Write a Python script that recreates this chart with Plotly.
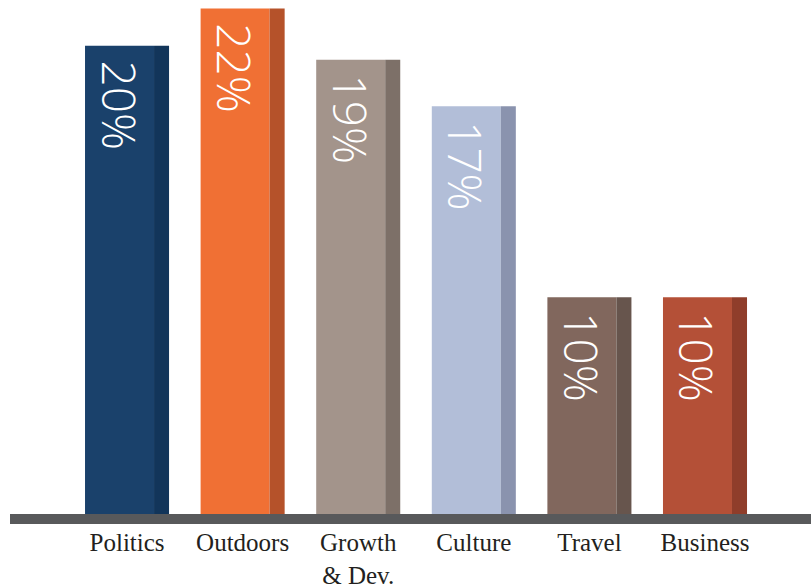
import plotly.graph_objects as go

categories = ["Politics", "Outdoors", "Growth<br>& Dev.", "Culture", "Travel", "Business"]
bar_heights = [20.1, 21.7, 19.5, 17.5, 9.3, 9.3]
value_labels = ["20%", "22%", "19%", "17%", "10%", "10%"]
face_colors = ["#1a416b", "#f07034", "#a3948b", "#b2bed8", "#81675d", "#b45037"]
side_colors = ["#12355a", "#b5522a", "#7d7068", "#8a93ae", "#67554d", "#8f3d2a"]

xs = list(range(len(categories)))

fig = go.Figure()
fig.add_trace(go.Bar(
    x=xs, y=bar_heights, width=0.597, offset=-0.3635,
    marker=dict(color=face_colors, line=dict(width=0)),
    text=["\u00a0" + t for t in value_labels], textposition="inside",
    insidetextanchor="end", textangle=90,
    textfont=dict(family="Open Sans", size=51, color="white", weight=300),
    hoverinfo="skip",
))
fig.add_trace(go.Bar(
    x=xs, y=bar_heights, width=0.13, offset=0.2335,
    marker=dict(color=side_colors, line=dict(width=0)),
    hoverinfo="skip",
))

fig.add_shape(type="rect", xref="paper", yref="paper",
              x0=10/811, x1=1, y0=0, y1=10/524,
              fillcolor="#58595b", line=dict(width=0), layer="above")

fig.update_layout(
    width=811, height=587,
    margin=dict(l=0, r=0, t=0, b=63),
    paper_bgcolor="white", plot_bgcolor="white",
    barmode="overlay", showlegend=False,
    xaxis=dict(range=[-1.099, 5.917], tickmode="array", tickvals=xs,
               ticktext=categories, showgrid=False, zeroline=False,
               showline=False, ticks="", ticklabelstandoff=1, automargin=False,
               tickfont=dict(family="Liberation Serif", size=25, color="#231f20")),
    yaxis=dict(range=[-0.43, 22.06], visible=False, showgrid=False, zeroline=False,
               automargin=False),
)

fig.write_html("out.html", config={"displayModeBar": False},
               post_script="document.body.style.margin='0';")
